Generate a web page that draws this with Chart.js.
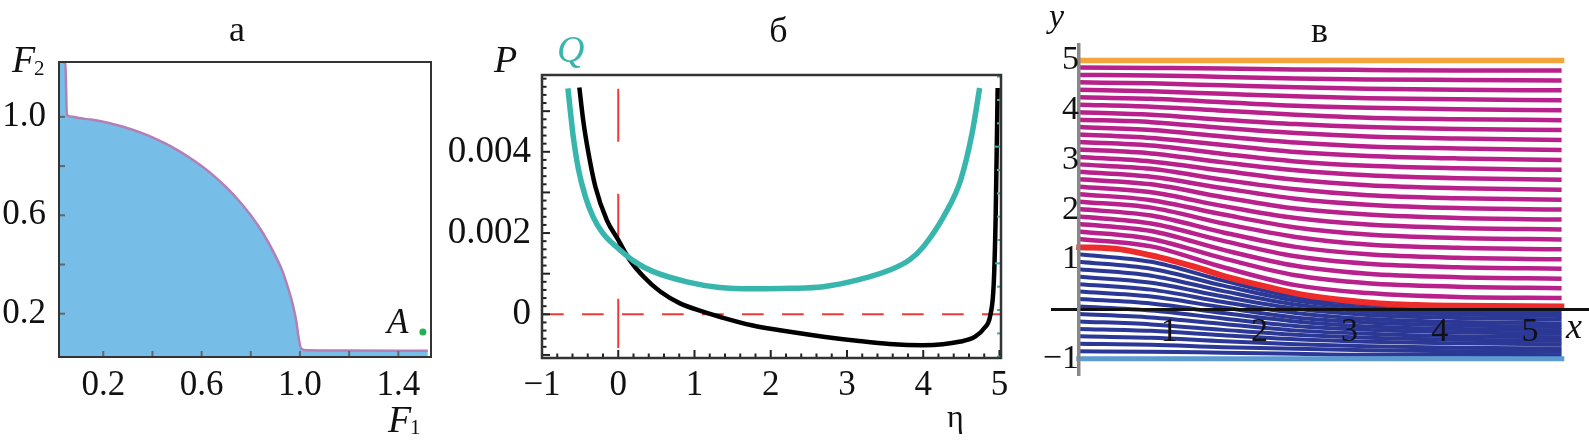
<!DOCTYPE html>
<html lang="ru">
<head>
<meta charset="UTF-8">
<title>Панели а, б, в</title>
<script src="https://cdn.jsdelivr.net/npm/chart.js"></script>
<style>
  body { margin: 0; background: #fff; }
  #wrap { position: relative; width: 1589px; height: 447px; }
  #wrap canvas { position: absolute; left: 0; top: 0; }
</style>
</head>
<body>
<div id="wrap">
  <canvas id="chartA" width="1589" height="447"></canvas>
  <canvas id="chartB" width="1589" height="447"></canvas>
  <canvas id="chartC" width="1589" height="447"></canvas>
</div>
<script>
// ---- panel а: boundary of the region in the (F1, F2) plane ----
var aBoundaryX = [0.0, 0.046, 0.052, 0.075, 0.1, 0.15, 0.2, 0.25, 0.3, 0.35, 0.4, 0.45, 0.5, 0.55, 0.6, 0.65, 0.7, 0.75, 0.8, 0.85, 0.9, 0.93, 0.95, 0.97, 0.985, 0.995, 1.005, 1.03, 1.2, 1.52];
var aBoundaryY = [1.23, 1.218, 1.008, 1.0, 0.995, 0.989, 0.98, 0.968, 0.954, 0.937, 0.917, 0.893, 0.866, 0.835, 0.8, 0.76, 0.714, 0.661, 0.6, 0.527, 0.436, 0.37, 0.31, 0.24, 0.17, 0.1, 0.058, 0.051, 0.05, 0.049];
var aPointA = [1.50, 0.126];
var aXTicks = [0.2, 0.4, 0.6, 0.8, 1.0, 1.2, 1.4];
var aXTickText = ['0.2', '', '0.6', '', '1.0', '', '1.4'];
var aYTicks = [0.2, 0.4, 0.6, 0.8, 1.0];
var aYTickText = ['0.2', '', '0.6', '', '1.0'];

// ---- panel б: P(η) and Q(η) ----
var qEta = [-0.66, -0.63, -0.59, -0.52, -0.43, -0.33, -0.2, 0, 0.22, 0.46, 0.9, 1.33, 1.8, 2.25, 2.69, 3.13, 3.56, 3.82, 4.0, 4.29, 4.49, 4.64, 4.74];
var qVal = [0.00556, 0.00503, 0.00437, 0.00355, 0.00289, 0.0024, 0.00199, 0.00162, 0.00129, 0.00105, 0.0008, 0.00066, 0.00063, 0.00064, 0.00068, 0.00084, 0.00109, 0.00134, 0.00166, 0.00248, 0.0033, 0.00445, 0.00557];
var pEta = [-0.51, -0.46, -0.39, -0.3, -0.15, 0, 0.15, 0.33, 0.55, 0.81, 1.12, 1.33, 1.75, 2.25, 2.69, 3.13, 3.56, 4.0, 4.49, 4.68, 4.8, 4.88, 4.925, 4.95, 4.976];
var pVal = [0.00558, 0.00478, 0.00396, 0.00314, 0.00232, 0.00183, 0.00134, 0.00093, 0.00056, 0.00027, 0.00006, -0.00006, -0.00027, -0.00043, -0.00055, -0.00065, -0.00073, -0.00076, -0.00067, -0.00055, -0.00034, -0.00002, 0.00076, 0.0024, 0.00557];
var bXLabelVals = [-1, 0, 1, 2, 3, 4, 5];
var bXLabelText = ['\u22121', '0', '1', '2', '3', '4', '5'];
var bYLabelVals = [0, 0.002, 0.004];
var bYLabelText = ['0', '0.002', '0.004'];

// ---- panel в: streamlines ----
var vLineX = [0, 0.8, 1.6, 2.4, 3.2, 4.2, 5.35];
var magentaY = [
  [4.86, 4.85, 4.84, 4.82, 4.81, 4.80, 4.80],
  [4.71, 4.70, 4.67, 4.64, 4.62, 4.61, 4.60],
  [4.56, 4.54, 4.50, 4.46, 4.43, 4.41, 4.40],
  [4.41, 4.38, 4.33, 4.28, 4.24, 4.22, 4.20],
  [4.26, 4.23, 4.16, 4.09, 4.05, 4.02, 4.00],
  [4.11, 4.07, 3.99, 3.91, 3.85, 3.82, 3.80],
  [3.96, 3.91, 3.81, 3.72, 3.66, 3.62, 3.60],
  [3.81, 3.76, 3.64, 3.54, 3.47, 3.43, 3.40],
  [3.66, 3.60, 3.47, 3.35, 3.27, 3.23, 3.20],
  [3.51, 3.44, 3.30, 3.16, 3.08, 3.03, 3.00],
  [3.36, 3.29, 3.12, 2.97, 2.88, 2.83, 2.80],
  [3.21, 3.13, 2.95, 2.79, 2.69, 2.63, 2.60],
  [3.06, 2.97, 2.78, 2.60, 2.49, 2.43, 2.40],
  [2.91, 2.82, 2.60, 2.41, 2.29, 2.23, 2.20],
  [2.76, 2.66, 2.43, 2.22, 2.10, 2.03, 2.00],
  [2.61, 2.51, 2.25, 2.02, 1.90, 1.83, 1.80],
  [2.46, 2.35, 2.07, 1.83, 1.70, 1.63, 1.60],
  [2.31, 2.19, 1.90, 1.64, 1.50, 1.43, 1.40],
  [2.16, 2.04, 1.72, 1.45, 1.30, 1.23, 1.20],
  [2.01, 1.88, 1.54, 1.25, 1.10, 1.03, 1.00],
  [1.86, 1.72, 1.37, 1.06, 0.91, 0.84, 0.81],
  [1.71, 1.57, 1.19, 0.87, 0.71, 0.64, 0.61],
  [1.56, 1.41, 1.02, 0.68, 0.52, 0.45, 0.42],
  [1.41, 1.26, 0.84, 0.48, 0.32, 0.24, 0.22]
];
var blueY = [
  [1.10, 0.95, 0.57, 0.24, 0.09, 0.02, 0.00],
  [0.95, 0.81, 0.47, 0.17, 0.02, -0.05, -0.07],
  [0.80, 0.67, 0.36, 0.09, -0.05, -0.11, -0.14],
  [0.65, 0.53, 0.25, 0.01, -0.12, -0.18, -0.21],
  [0.50, 0.39, 0.14, -0.08, -0.20, -0.26, -0.29],
  [0.35, 0.25, 0.03, -0.17, -0.27, -0.33, -0.36],
  [0.20, 0.11, -0.08, -0.25, -0.35, -0.40, -0.43],
  [0.05, -0.03, -0.19, -0.34, -0.42, -0.47, -0.50],
  [-0.10, -0.17, -0.30, -0.43, -0.50, -0.55, -0.57],
  [-0.25, -0.31, -0.42, -0.52, -0.58, -0.62, -0.64],
  [-0.40, -0.44, -0.53, -0.61, -0.66, -0.69, -0.71],
  [-0.55, -0.58, -0.65, -0.71, -0.75, -0.78, -0.79],
  [-0.70, -0.72, -0.77, -0.80, -0.83, -0.85, -0.86],
  [-0.85, -0.86, -0.88, -0.90, -0.92, -0.92, -0.93]
];
var redX = [-0.03, 0.46, 0.87, 1.28, 1.69, 2.1, 2.51, 2.92, 3.33, 3.74, 4.15, 5.38];
var redY = [1.245, 1.2, 1.05, 0.85, 0.62, 0.44, 0.28, 0.18, 0.11, 0.08, 0.065, 0.05];
var wallX = [-0.03, 5.38];
var topWallY = [5, 5];
var bottomWallY = [-1, -1];
var vXTicks = [1, 2, 3, 4, 5];
var vYTicks = [-1, 1, 2, 3, 4, 5];
var vYTickText = ['\u22121', '1', '2', '3', '4', '5'];

var SERIF = '"Liberation Serif", "Times New Roman", serif';

function pts(xs, ys) {
  return xs.map(function (x, i) { return { x: x, y: ys[i] }; });
}

function findLabel(vals, texts, v) {
  for (var i = 0; i < vals.length; i++) {
    if (Math.abs(vals[i] - v) < 1e-9) return texts[i];
  }
  return '';
}

// draws frame, inward ticks and free text on top of a chart
function decor(cfg) {
  return {
    id: 'decor',
    afterDraw: function (chart) {
      var ctx = chart.ctx, a = chart.chartArea;
      ctx.save();
      (cfg.ticks || []).forEach(function (spec) {
        var s = chart.scales[spec.scale];
        ctx.strokeStyle = spec.color;
        ctx.lineWidth = spec.width;
        s.ticks.forEach(function (t) {
          var v = t.value;
          var big = spec.majorStep && Math.abs(v / spec.majorStep - Math.round(v / spec.majorStep)) < 1e-6;
          var len = big ? spec.majorLen : spec.len;
          var p = s.getPixelForValue(v);
          ctx.beginPath();
          if (spec.side === 'bottom') { ctx.moveTo(p, a.bottom); ctx.lineTo(p, a.bottom - len); }
          else if (spec.side === 'left') { ctx.moveTo(a.left, p); ctx.lineTo(a.left + len, p); }
          else { ctx.moveTo(a.right, p); ctx.lineTo(a.right - len, p); }
          ctx.stroke();
        });
      });
      if (cfg.frame) {
        ctx.strokeStyle = cfg.frame.color;
        ctx.lineWidth = cfg.frame.width;
        ctx.strokeRect(a.left, a.top, a.right - a.left, a.bottom - a.top);
      }
      (cfg.texts || []).forEach(function (t) {
        ctx.font = t.font;
        ctx.fillStyle = t.color || '#111';
        ctx.textAlign = t.align || 'left';
        ctx.textBaseline = 'alphabetic';
        ctx.fillText(t.text, t.x, t.y);
      });
      ctx.restore();
    }
  };
}

var common = {
  responsive: false,
  animation: false,
  devicePixelRatio: 1,
  events: [],
  elements: { point: { radius: 0 }, line: { fill: false } }
};

function opts(extra) {
  return Object.assign({}, common, extra);
}

// ---------- panel а ----------
new Chart(document.getElementById('chartA'), {
  type: 'line',
  data: {
    datasets: [
      { data: [{ x: aPointA[0], y: aPointA[1] }], showLine: false, pointRadius: 3.5,
        pointBackgroundColor: '#1fb254', pointBorderWidth: 0 },
      { data: pts(aBoundaryX, aBoundaryY), borderColor: '#b37fb6', borderWidth: 2.5,
        backgroundColor: '#76bde8', fill: 'start', cubicInterpolationMode: 'monotone' }
    ]
  },
  options: opts({
    layout: { padding: { left: 0, top: 62, right: 1158, bottom: 0 } },
    plugins: { legend: { display: false }, tooltip: { enabled: false } },
    scales: {
      x: {
        type: 'linear', min: 0.02, max: 1.533,
        afterFit: function (s) { s.height = 90; },
        afterBuildTicks: function (s) { s.ticks = aXTicks.map(function (v) { return { value: v }; }); },
        grid: { display: false, drawTicks: false }, border: { display: false },
        ticks: { autoSkip: false, maxRotation: 0, minRotation: 0, padding: 8, color: '#111',
          font: { family: SERIF, size: 35 },
          callback: function (v, i) { return aXTickText[i]; } }
      },
      y: {
        type: 'linear', min: 0.024, max: 1.223,
        afterFit: function (s) { s.width = 59; },
        afterBuildTicks: function (s) { s.ticks = aYTicks.map(function (v) { return { value: v }; }); },
        grid: { display: false, drawTicks: false }, border: { display: false },
        ticks: { autoSkip: false, padding: 13, color: '#111',
          font: { family: SERIF, size: 35 },
          callback: function (v, i) { return aYTickText[i]; } }
      }
    }
  }),
  plugins: [decor({
    frame: { color: '#333', width: 2 },
    ticks: [
      { scale: 'x', side: 'bottom', len: 6, color: '#666', width: 2 },
      { scale: 'y', side: 'left', len: 6, color: '#666', width: 2 }
    ],
    texts: [
      { text: '\u0430', x: 237, y: 41, font: '36px ' + SERIF, align: 'center' },
      { text: 'F', x: 12, y: 72, font: 'italic 38px ' + SERIF },
      { text: '2', x: 34, y: 75, font: '21px ' + SERIF },
      { text: 'F', x: 388, y: 432, font: 'italic 38px ' + SERIF },
      { text: '1', x: 410, y: 434, font: '21px ' + SERIF },
      { text: 'A', x: 387, y: 333, font: 'italic 35px ' + SERIF }
    ]
  })]
});

// ---------- panel б ----------
new Chart(document.getElementById('chartB'), {
  type: 'line',
  data: {
    datasets: [
      { data: pts(qEta, qVal), borderColor: '#38b6ae', borderWidth: 5.5, cubicInterpolationMode: 'monotone' },
      { data: pts(pEta, pVal), borderColor: '#000', borderWidth: 4.5, cubicInterpolationMode: 'monotone' },
      { data: [{ x: -1, y: 0 }, { x: 5.02, y: 0 }], borderColor: '#f03a3a', borderWidth: 2, borderDash: [21.7, 18.3] },
      { data: [{ x: 0, y: 0.00555 }, { x: 0, y: -0.00083 }], borderColor: '#f03a3a', borderWidth: 2, borderDash: [53, 52] }
    ]
  },
  options: opts({
    layout: { padding: { left: 440, top: 75, right: 588, bottom: 0 } },
    plugins: { legend: { display: false }, tooltip: { enabled: false } },
    scales: {
      x: {
        type: 'linear', min: -1, max: 5.02,
        afterFit: function (s) { s.height = 89; },
        grid: { display: false, drawTicks: false }, border: { display: false },
        ticks: { stepSize: 0.2, includeBounds: false, autoSkip: false, maxTicksLimit: 100,
          maxRotation: 0, minRotation: 0, padding: 7, color: '#111',
          font: { family: SERIF, size: 35 },
          callback: function (v) { return findLabel(bXLabelVals, bXLabelText, v); } }
      },
      y: {
        type: 'linear', min: -0.001075, max: 0.00589,
        afterFit: function (s) { s.width = 102; },
        grid: { display: false, drawTicks: false }, border: { display: false },
        ticks: { stepSize: 0.0002, includeBounds: false, autoSkip: false, maxTicksLimit: 100,
          padding: 11, color: '#111', font: { family: SERIF, size: 37 },
          callback: function (v) { return findLabel(bYLabelVals, bYLabelText, v); } }
      },
      q: {
        type: 'linear', axis: 'y', position: 'right', display: false,
        min: -0.000622, max: 0.004228,
        ticks: { stepSize: 0.0002, includeBounds: false, maxTicksLimit: 100 }
      }
    }
  }),
  plugins: [decor({
    frame: { color: '#333', width: 2.5 },
    ticks: [
      { scale: 'x', side: 'bottom', len: 4.5, majorLen: 8, majorStep: 1, color: '#222', width: 2 },
      { scale: 'y', side: 'left', len: 4.5, majorLen: 8, majorStep: 0.001, color: '#222', width: 2 },
      { scale: 'q', side: 'right', len: 4, majorLen: 6, majorStep: 0.001, color: '#38b6ae', width: 2 }
    ],
    texts: [
      { text: '\u0431', x: 778.5, y: 42, font: '36px ' + SERIF, align: 'center' },
      { text: 'P', x: 494, y: 72, font: 'italic 38px ' + SERIF },
      { text: 'Q', x: 557, y: 62, font: 'italic 38px ' + SERIF, color: '#38b6ae' },
      { text: '\u03b7', x: 947, y: 427, font: '32px ' + SERIF }
    ]
  })]
});

// ---------- panel в ----------
var vSets = [];
vSets.push({ data: pts(wallX, topWallY), borderColor: '#f0a53d', borderWidth: 5.5 });
vSets.push({ data: pts(wallX, bottomWallY), borderColor: '#5b9bd0', borderWidth: 5 });
vSets.push({ data: pts(redX, redY), borderColor: '#ee2b2b', borderWidth: 6, cubicInterpolationMode: 'monotone' });
magentaY.forEach(function (ys) {
  vSets.push({ data: pts(vLineX, ys), borderColor: '#b8208c', borderWidth: 4.5, cubicInterpolationMode: 'monotone' });
});
blueY.forEach(function (ys) {
  vSets.push({ data: pts(vLineX, ys), borderColor: '#2c3895', borderWidth: 4, cubicInterpolationMode: 'monotone' });
});

new Chart(document.getElementById('chartC'), {
  type: 'line',
  data: { datasets: vSets },
  options: opts({
    layout: { padding: { left: 1052, top: 45, right: 0, bottom: 72 } },
    plugins: { legend: { display: false }, tooltip: { enabled: false } },
    scales: {
      x: {
        type: 'linear', min: -0.299, max: 5.654, position: { y: 0 },
        afterBuildTicks: function (s) { s.ticks = vXTicks.map(function (v) { return { value: v }; }); },
        grid: { display: false, drawTicks: false },
        border: { display: true, color: '#111', width: 3, z: 2 },
        ticks: { z: 3, autoSkip: false, maxRotation: 0, minRotation: 0, padding: 3, color: '#111',
          font: { family: SERIF, size: 34 } }
      },
      y: {
        type: 'linear', min: -1.328, max: 5.312, position: { x: 0 },
        afterBuildTicks: function (s) { s.ticks = vYTicks.map(function (v) { return { value: v }; }); },
        grid: { display: false, drawTicks: false },
        border: { display: true, color: '#888', width: 3.5, z: 2 },
        ticks: { z: 3, autoSkip: false, padding: 18, color: '#111', font: { family: SERIF, size: 34 },
          callback: function (v, i) { return vYTickText[i]; } }
      }
    }
  }),
  plugins: [decor({
    texts: [
      { text: '\u0432', x: 1319.5, y: 41.5, font: '36px ' + SERIF, align: 'center' },
      { text: 'y', x: 1049, y: 27, font: 'italic 34px ' + SERIF },
      { text: 'x', x: 1566, y: 338, font: 'italic 36px ' + SERIF }
    ]
  })]
});
</script>
</body>
</html>
